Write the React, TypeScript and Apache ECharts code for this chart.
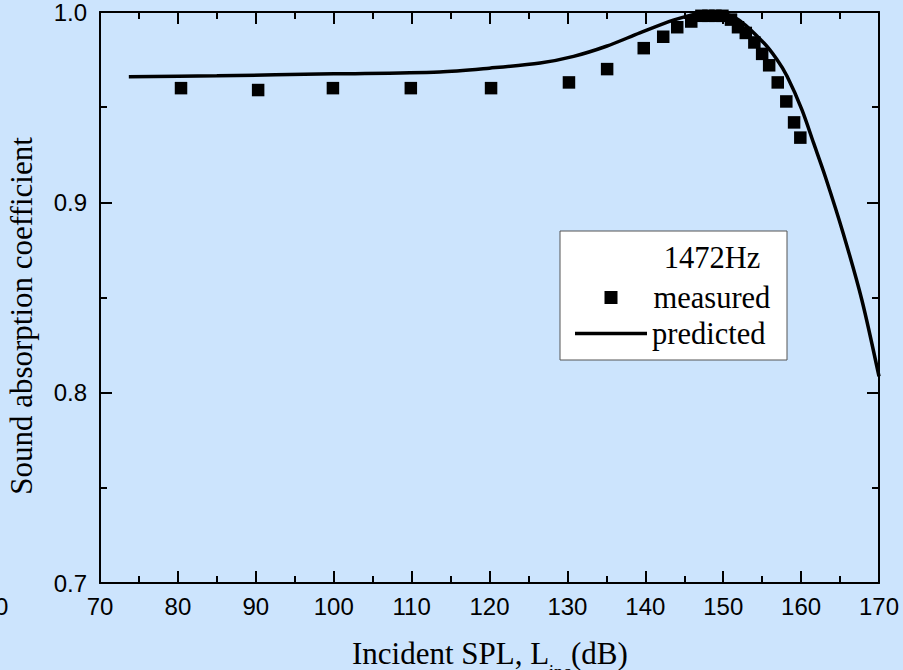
import React, { useEffect, useRef } from "react";
import * as echarts from "echarts";

const measuredX = [80.4, 90.3, 99.9, 109.9, 120.2, 130.2, 135.1, 139.8, 142.3, 144.1, 145.9, 147.2, 148.1, 149.0, 149.9, 151.0, 151.9, 152.9, 154.0, 155.0, 155.9, 157.0, 158.1, 159.1, 159.9];
const measuredY = [0.960, 0.959, 0.960, 0.960, 0.960, 0.963, 0.970, 0.981, 0.987, 0.992, 0.995, 0.998, 0.998, 0.998, 0.998, 0.996, 0.992, 0.989, 0.984, 0.978, 0.972, 0.963, 0.953, 0.942, 0.934];

const predictedX = [73.7, 85, 100, 113.6, 120, 126.5, 130.8, 135, 139.3, 143.6, 146.6, 149.2, 151.9, 155.2, 156.9, 158.2, 160.1, 161.6, 163.1, 165.4, 167.8, 170];
const predictedY = [0.966, 0.9665, 0.9675, 0.9685, 0.9705, 0.9732, 0.9767, 0.982, 0.989, 0.9957, 0.999, 0.9996, 0.9961, 0.9838, 0.975, 0.9662, 0.9487, 0.9312, 0.9136, 0.8838, 0.8487, 0.8085];

const seriesNames = ["measured", "predicted"];
const legendTitle = "1472Hz";
const xTitleMain = "Incident SPL, L";
const xTitleSub = "inc";
const xTitleEnd = "(dB)";
const yTitle = "Sound absorption coefficient";

const SERIF = "'Liberation Serif', 'Times New Roman', serif";
const SANS = "'Liberation Sans', Arial, sans-serif";
const BG = "#cce4fd";

export default function App() {
  const ref = useRef<HTMLDivElement>(null);

  useEffect(() => {
    document.body.style.margin = "0";
    if (!ref.current) return;
    const chart = echarts.init(ref.current, undefined, { renderer: "svg" });

    const axisLine = { show: true, onZero: false, lineStyle: { color: "#000", width: 2 } };
    const tick = { show: true, inside: true, length: 12, lineStyle: { color: "#000", width: 2 } };
    const minor = { show: true, splitNumber: 2, length: 7, lineStyle: { color: "#000", width: 2 } };
    const legendText = { fontFamily: SERIF, fontSize: 30.5, color: "#000" };

    chart.setOption({
      animation: false,
      backgroundColor: BG,
      grid: { left: 100, right: 24, top: 12, bottom: 87 },
      xAxis: [
        {
          type: "value",
          position: "bottom",
          min: 70,
          max: 170,
          interval: 10,
          axisLine,
          axisTick: tick,
          minorTick: minor,
          splitLine: { show: false },
          axisLabel: { margin: 11, color: "#000", fontFamily: SANS, fontSize: 24 },
        },
        {
          type: "value",
          position: "top",
          min: 70,
          max: 170,
          interval: 10,
          axisLine,
          axisTick: tick,
          minorTick: minor,
          splitLine: { show: false },
          axisLabel: { show: false },
        },
      ],
      yAxis: [
        {
          type: "value",
          position: "left",
          min: 0.7,
          max: 1.0,
          interval: 0.1,
          axisLine,
          axisTick: tick,
          minorTick: minor,
          splitLine: { show: false },
          axisLabel: {
            margin: 13,
            color: "#000",
            fontFamily: SANS,
            fontSize: 24,
            formatter: (v: number) => v.toFixed(1),
          },
        },
        {
          type: "value",
          position: "right",
          min: 0.7,
          max: 1.0,
          interval: 0.1,
          axisLine,
          axisTick: tick,
          minorTick: minor,
          splitLine: { show: false },
          axisLabel: { show: false },
        },
      ],
      legend: [
        {
          show: true,
          orient: "vertical",
          left: 604.5,
          top: 282,
          padding: 0,
          itemWidth: 13,
          itemHeight: 13,
          z: 20,
          textStyle: { ...legendText, padding: [0, 0, 0, 31] },
          data: [{ name: seriesNames[0], icon: "rect", itemStyle: { color: "#000", opacity: 1 } }],
        },
        {
          show: true,
          orient: "vertical",
          left: 575,
          top: 318,
          padding: 0,
          itemWidth: 72,
          itemHeight: 3.5,
          z: 20,
          textStyle: legendText,
          data: [{ name: seriesNames[1], icon: "path://M0,0L72,0L72,3.5L0,3.5Z", itemStyle: { color: "#000" } }],
        },
      ],
      series: [
        {
          name: seriesNames[0],
          type: "scatter",
          xAxisIndex: 0,
          yAxisIndex: 0,
          symbol: "rect",
          symbolSize: 12.5,
          itemStyle: { color: "#000", opacity: 1 },
          data: measuredX.map((x, i) => [x, measuredY[i]]),
          z: 3,
        },
        {
          name: seriesNames[1],
          type: "line",
          xAxisIndex: 0,
          yAxisIndex: 0,
          showSymbol: false,
          symbol: "none",
          smooth: 0.3,
          lineStyle: { color: "#000", width: 3.5 },
          itemStyle: { color: "#000" },
          data: predictedX.map((x, i) => [x, predictedY[i]]),
          z: 4,
        },
      ],
      graphic: [
        {
          type: "rect",
          z: 10,
          shape: { x: 560, y: 231, width: 227, height: 129 },
          style: { fill: "#fff", stroke: "#555", lineWidth: 1 },
        },
        {
          type: "text",
          z: 11,
          x: 712,
          y: 258,
          style: { text: legendTitle, fill: "#000", font: `30.5px ${SERIF}`, align: "center", verticalAlign: "middle" },
        },
        {
          type: "text",
          x: 21,
          y: 316,
          rotation: Math.PI / 2,
          style: { text: yTitle, fill: "#000", font: `31px ${SERIF}`, align: "center", verticalAlign: "middle" },
        },
        {
          type: "text",
          x: 352,
          y: 653,
          style: { text: xTitleMain, fill: "#000", font: `31px ${SERIF}`, align: "left", verticalAlign: "middle" },
        },
        {
          type: "text",
          x: 549,
          y: 672,
          style: { text: xTitleSub, fill: "#000", font: `18px ${SERIF}`, align: "left", verticalAlign: "middle" },
        },
        {
          type: "text",
          x: 571,
          y: 653,
          style: { text: xTitleEnd, fill: "#000", font: `31px ${SERIF}`, align: "left", verticalAlign: "middle" },
        },
        {
          type: "text",
          x: -5,
          y: 606,
          style: { text: "0", fill: "#000", font: `24px ${SANS}`, align: "left", verticalAlign: "middle" },
        },
      ],
    });

    return () => chart.dispose();
  }, []);

  return <div ref={ref} style={{ width: 903, height: 670 }} />;
}
